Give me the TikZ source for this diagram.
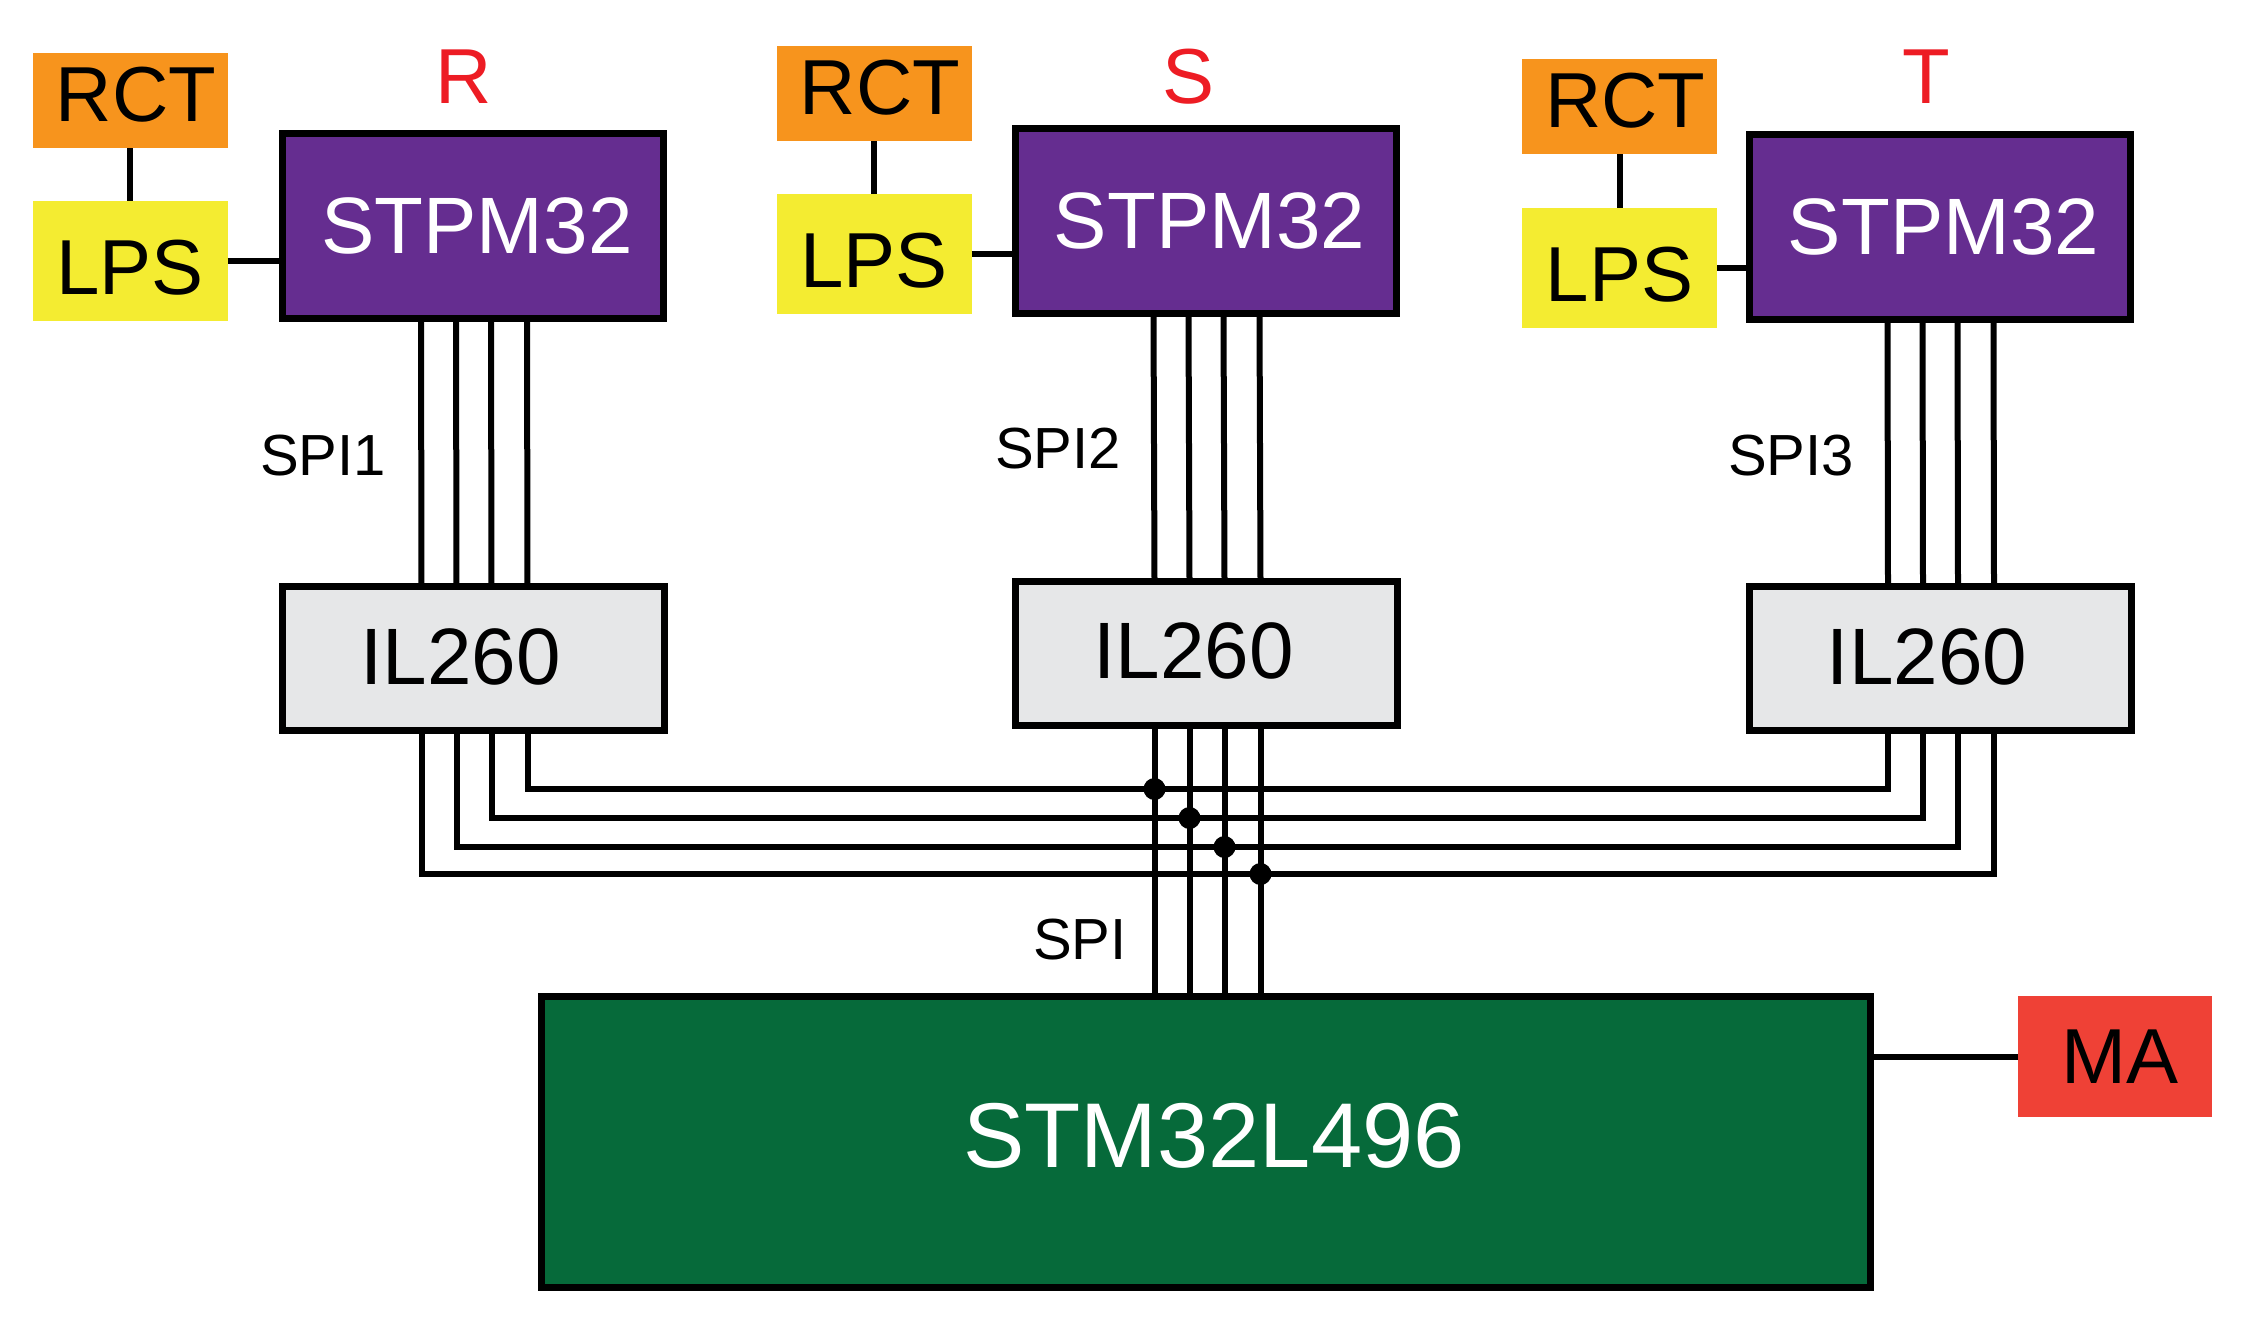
\documentclass[tikz,border=0pt]{standalone}
\usepackage{fontspec}
\setmainfont{Liberation Sans}
\usetikzlibrary{calc}
\definecolor{rctc}{HTML}{F7941D}
\definecolor{lpsc}{HTML}{F4EC31}
\definecolor{stpmc}{HTML}{652D90}
\definecolor{ilc}{HTML}{E6E7E8}
\definecolor{stmc}{HTML}{066A3A}
\definecolor{mac}{HTML}{EF4136}
\definecolor{phc}{HTML}{ED1C24}
\tikzset{
  base/.style={inner sep=0pt, outer sep=0pt, align=center},
  txt/.style={inner sep=0pt, outer sep=0pt},
  rctbox/.style={base, fill=rctc, minimum width=97.5pt, minimum height=47.5pt,
    label={[txt, xshift=3pt, yshift=2.75pt, font=\fontsize{39pt}{46pt}\selectfont]center:#1}},
  lpsbox/.style={base, fill=lpsc, minimum width=97.5pt, minimum height=60pt,
    label={[txt, yshift=-3.5pt, font=\fontsize{39pt}{46pt}\selectfont]center:#1}},
  stpmbox/.style={base, draw=black, line width=3.5pt, fill=stpmc, minimum width=190.5pt, minimum height=92.5pt,
    label={[txt, text=white, xshift=2pt, font=\fontsize{40pt}{48pt}\selectfont]center:#1}},
  ilbox/.style={base, draw=black, line width=3.5pt, fill=ilc, minimum width=191pt, minimum height=72pt,
    label={[txt, xshift=-6.5pt, yshift=1pt, font=\fontsize{40pt}{48pt}\selectfont]center:#1}},
  stmbox/.style={base, draw=black, line width=3.5pt, fill=stmc, minimum width=664.5pt, minimum height=145.5pt,
    label={[txt, text=white, xshift=4pt, yshift=3pt, font=\fontsize{46pt}{54pt}\selectfont]center:#1}},
  mabox/.style={base, fill=mac, minimum width=97pt, minimum height=60.5pt,
    label={[txt, xshift=2.5pt, font=\fontsize{39pt}{46pt}\selectfont]center:#1}},
  phase/.style={txt, text=phc, font=\fontsize{39pt}{46pt}\selectfont},
  spilbl/.style={txt, font=\fontsize{29pt}{35pt}\selectfont},
  wire/.style={line width=3pt, black},
  junction/.style={fill=black, circle, inner sep=0pt, minimum size=11pt}
}
\begin{document}
\begin{tikzpicture}[x=0.5pt,y=-0.5pt]
\useasboundingbox (0,0) rectangle (2249,1319);

% R column
\node[rctbox=RCT] (rctR) at (130,100.5) {};
\node[lpsbox=LPS] (lpsR) at (130,260.5) {};
\node[stpmbox=STPM32] (stpmR) at (473,226) {};
\node[ilbox=IL260] (ilR) at (473.5,658.5) {};
\node[phase] (phR) at (464,77) {R};
\node[spilbl] (spi1) at (323,456) {SPI1};

% S column
\node[rctbox=RCT] (rctS) at (874,93.5) {};
\node[lpsbox=LPS] (lpsS) at (874,254) {};
\node[stpmbox=STPM32] (stpmS) at (1205.5,221) {};
\node[ilbox=IL260] (ilS) at (1206.5,653) {};
\node[phase] (phS) at (1188,77) {S};
\node[spilbl] (spi2) at (1058,449) {SPI2};

% T column
\node[rctbox=RCT] (rctT) at (1619.5,106.5) {};
\node[lpsbox=LPS] (lpsT) at (1619.5,268) {};
\node[stpmbox=STPM32] (stpmT) at (1939.5,226.5) {};
\node[ilbox=IL260] (ilT) at (1940,658.5) {};
\node[phase] (phT) at (1926,77) {T};
\node[spilbl] (spi3) at (1791,456) {SPI3};

% MCU and MA
\node[stmbox=STM32L496] (stm) at (1206,1142) {};
\node[mabox=MA] (ma) at (2115,1056.5) {};
\node[spilbl] (spi) at (1080,940) {SPI};

% bus heights
\coordinate (b1) at (0,789);
\coordinate (b2) at (0,818);
\coordinate (b3) at (0,847);
\coordinate (b4) at (0,874);

% RCT-LPS and LPS-STPM links
\foreach \c in {R,S,T}{
  \draw[wire] (rct\c.south) -- (lps\c.north);
  \draw[wire] (lps\c.east) -- (lps\c.east -| stpm\c.west);
}
\draw[wire] (ma.west) -- (ma.west -| stm.east);

% SPI buses STPM -> IL260
\foreach \c in {R,S,T}{
  \foreach \dx in {-52,-17,18,54}{
    \draw[wire] ($(stpm\c.south)+(\dx,0)$) -- ($(il\c.north)+(\dx,0)$);
  }
}

% IL260 outputs
\foreach \i/\dx in {1/-52,2/-17,3/18,4/54}{
  \coordinate (r\i) at ($(ilR.south)+(\dx,0)$);
  \coordinate (s\i) at ($(ilS.south)+(\dx,0)$);
  \coordinate (t\i) at ($(ilT.south)+(\dx,0)$);
}
\draw[wire] (r4) |- (b1 -| t1) -- (t1);
\draw[wire] (r3) |- (b2 -| t2) -- (t2);
\draw[wire] (r2) |- (b3 -| t3) -- (t3);
\draw[wire] (r1) |- (b4 -| t4) -- (t4);
\foreach \i in {1,2,3,4}{
  \draw[wire] (s\i) -- (s\i |- stm.north);
  \node[junction] (j\i) at (s\i |- b\i) {};
}
\end{tikzpicture}
\end{document}
